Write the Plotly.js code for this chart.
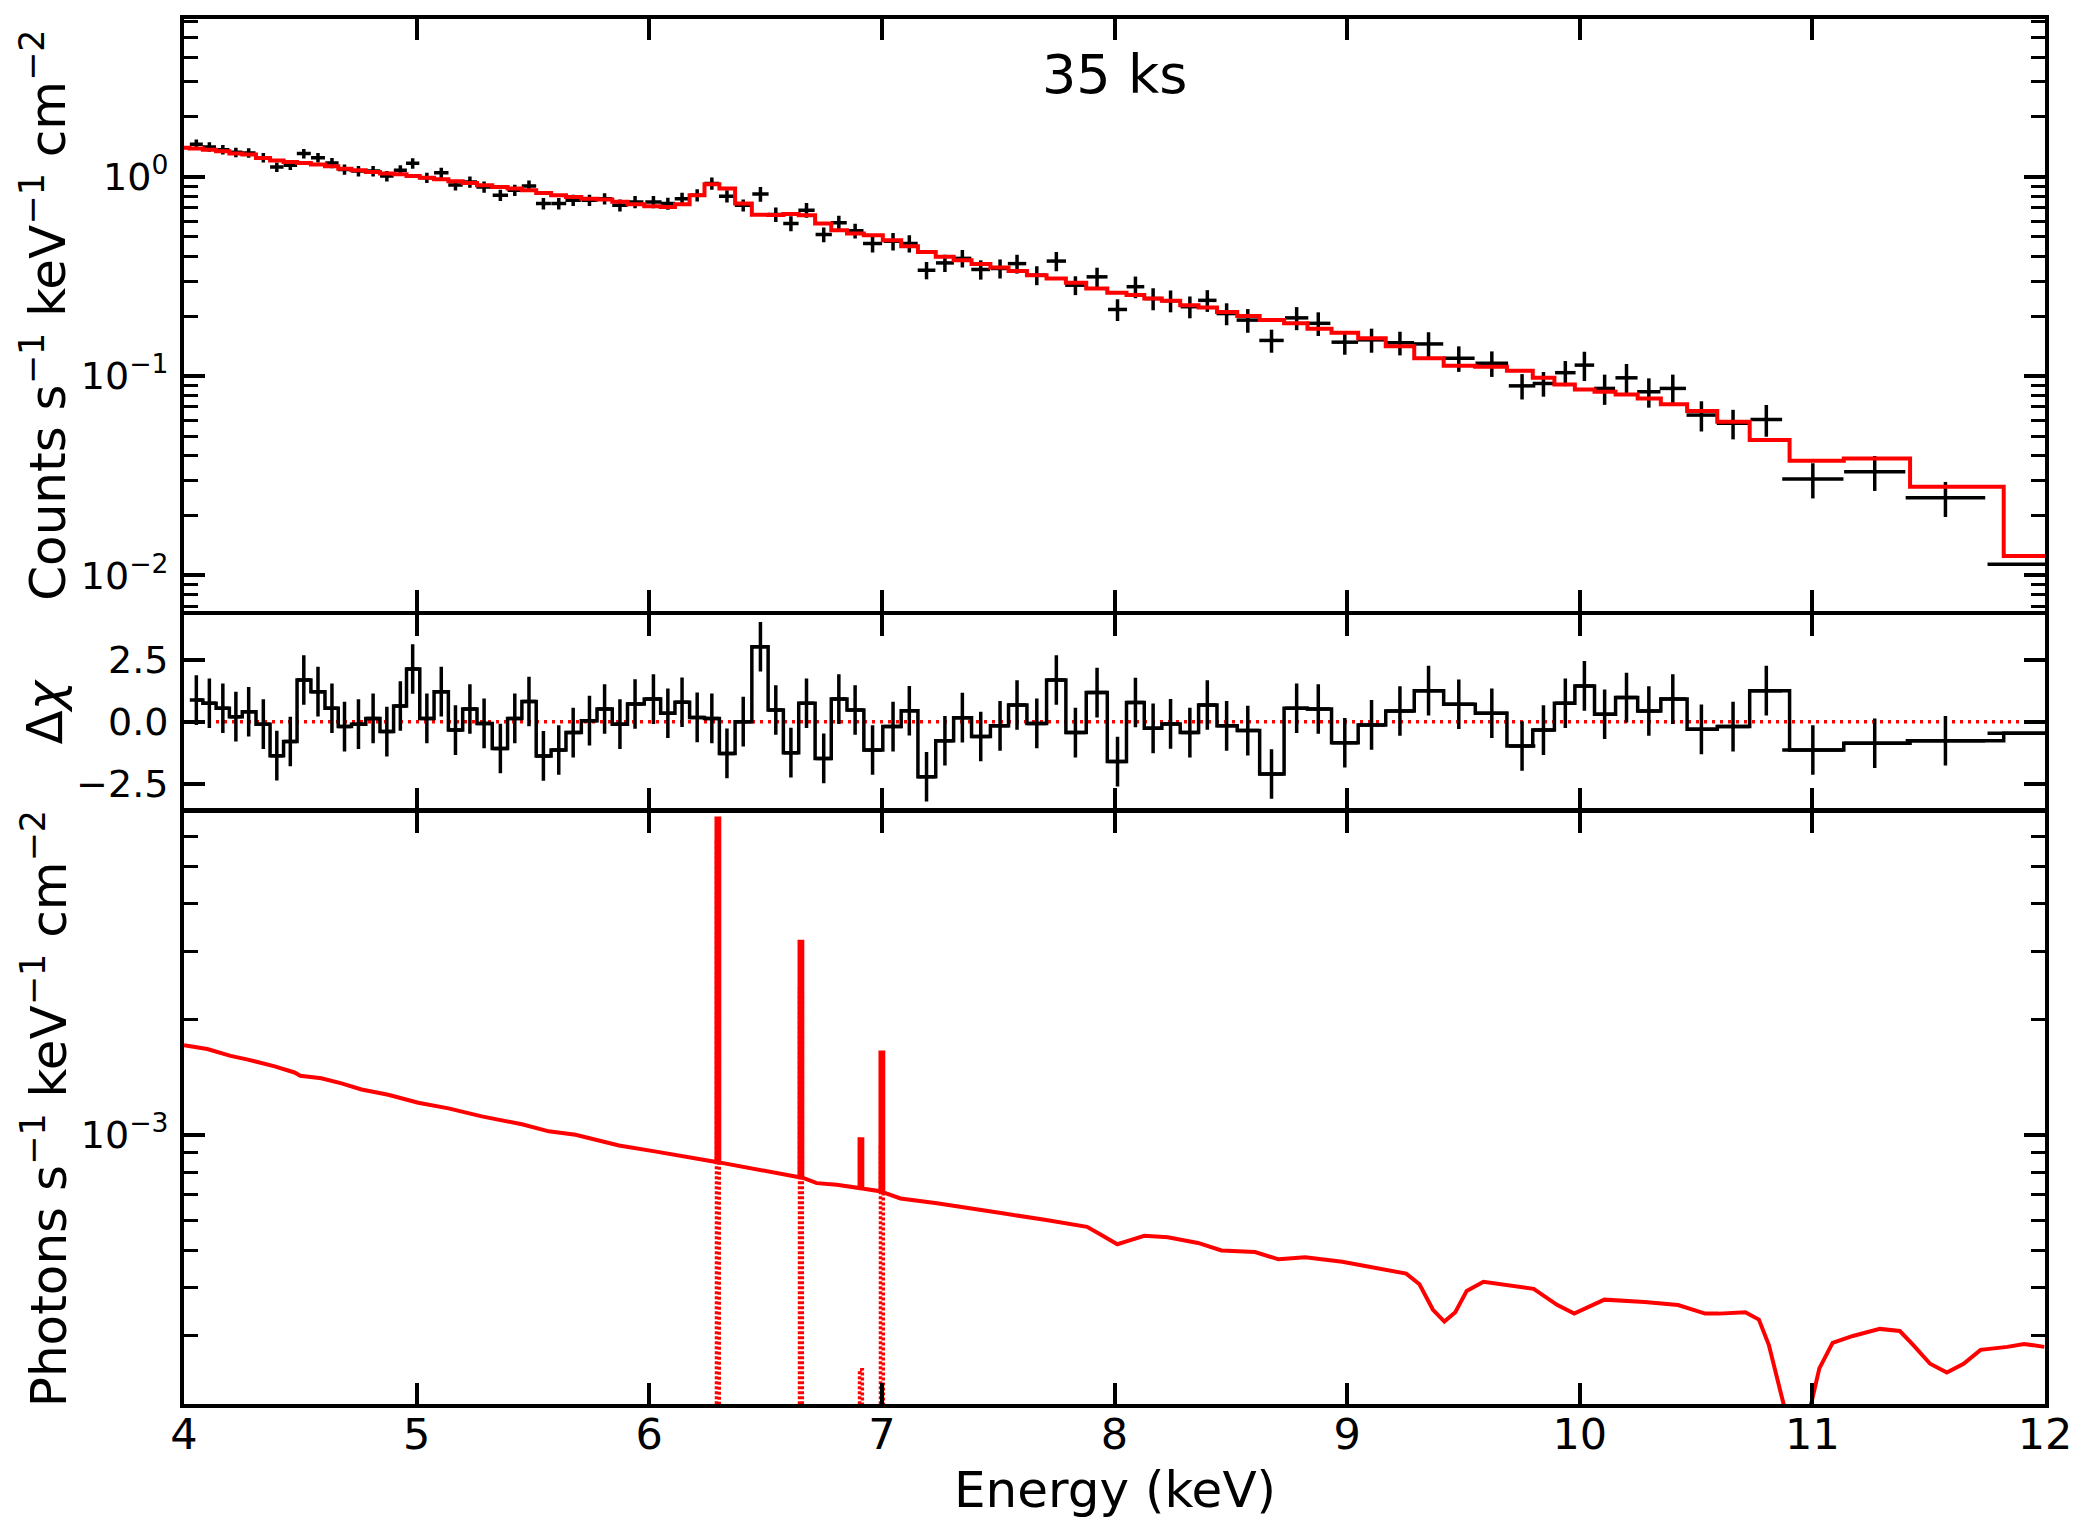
<!DOCTYPE html>
<html>
<head>
<meta charset="utf-8">
<script src="https://cdn.plot.ly/plotly-3.0.1.min.js"></script>
<style>
  html, body { margin: 0; padding: 0; background: #ffffff; }
  #chart { width: 2093px; height: 1537px; }
</style>
</head>
<body>
<div id="chart"></div>
<script>
// ---------------- data ----------------
const binE = [4.053,4.109,4.167,4.223,4.278,4.341,4.399,4.457,4.515,4.576,
  4.636,4.690,4.750,4.813,4.872,4.930,4.983,5.044,5.106,5.167,
  5.229,5.290,5.360,5.422,5.483,5.545,5.611,5.673,5.743,5.808,
  5.874,5.939,6.018,6.080,6.141,6.206,6.269,6.334,6.404,6.478,
  6.544,6.609,6.676,6.750,6.815,6.885,6.960,7.048,7.118,7.192,
  7.271,7.346,7.425,7.508,7.581,7.666,7.750,7.832,7.925,8.013,
  8.090,8.166,8.241,8.324,8.399,8.482,8.573,8.675,8.783,8.876,
  8.990,9.105,9.227,9.350,9.480,9.622,9.752,9.844,9.938,10.020,
  10.107,10.201,10.297,10.400,10.523,10.659,10.802,11.002,11.268,11.572,
  12.073];
const binHW = [0.028,0.0285,0.0285,0.028,0.0295,0.030,0.029,0.029,0.030,0.030,
  0.0285,0.0285,0.031,0.0305,0.029,0.028,0.0285,0.031,0.031,0.031,
  0.031,0.033,0.033,0.031,0.031,0.032,0.032,0.033,0.034,0.033,
  0.033,0.036,0.035,0.031,0.0315,0.032,0.032,0.034,0.036,0.035,
  0.033,0.033,0.035,0.035,0.034,0.036,0.041,0.040,0.036,0.038,
  0.0385,0.0385,0.0405,0.039,0.0395,0.042,0.0415,0.044,0.045,0.041,
  0.038,0.038,0.0395,0.0395,0.0395,0.0435,0.048,0.0525,0.050,0.052,
  0.057,0.059,0.061,0.063,0.068,0.070,0.057,0.0465,0.044,0.042,
  0.045,0.0475,0.050,0.0565,0.064,0.070,0.068,0.1316,0.1316,0.171,
  0.32];
const countsData = [1.46,1.415,1.37,1.33,1.32,1.25,1.12,1.145,1.31,1.25,
  1.175,1.09,1.07,1.07,1.01,1.08,1.17,0.99,1.05,0.91,
  0.944,0.89,0.81,0.857,0.90,0.735,0.735,0.764,0.764,0.778,
  0.721,0.749,0.749,0.735,0.778,0.81,0.927,0.80,0.721,0.82,
  0.648,0.584,0.681,0.514,0.588,0.536,0.463,0.475,0.463,0.340,
  0.370,0.390,0.343,0.347,0.367,0.321,0.378,0.286,0.315,0.216,
  0.281,0.245,0.239,0.223,0.240,0.206,0.191,0.151,0.196,0.184,
  0.148,0.152,0.147,0.145,0.123,0.116,0.0893,0.0918,0.104,0.1135,
  0.0867,0.098,0.0834,0.0867,0.0637,0.0579,0.0606,0.0304,0.0331,0.0245,
  0.01135];
const countsErr = [0.080,0.078,0.075,0.073,0.073,0.069,0.062,0.063,0.072,0.069,
  0.071,0.065,0.064,0.064,0.061,0.065,0.070,0.059,0.063,0.055,
  0.061,0.058,0.053,0.056,0.059,0.048,0.048,0.050,0.050,0.051,
  0.050,0.052,0.052,0.051,0.054,0.057,0.065,0.056,0.050,0.070,
  0.055,0.050,0.058,0.044,0.050,0.046,0.046,0.048,0.046,0.034,
  0.037,0.039,0.038,0.038,0.040,0.035,0.042,0.031,0.035,0.027,
  0.035,0.031,0.030,0.028,0.030,0.026,0.026,0.020,0.026,0.025,
  0.020,0.021,0.020,0.021,0.018,0.017,0.013,0.013,0.015,0.019,
  0.015,0.017,0.014,0.015,0.011,0.0098,0.011,0.0061,0.0066,0.0049,
  0.0023];
const modelStartE = 3.995;
const modelE = [modelStartE].concat(binE);
const modelY = [1.40,
  1.39,1.37,1.345,1.31,1.295,1.245,1.21,1.19,1.175,1.153,
  1.13,1.10,1.08,1.06,1.04,1.03,1.01,0.99,0.974,0.951,
  0.933,0.908,0.891,0.875,0.858,0.831,0.81,0.794,0.778,0.77,
  0.75,0.73,0.713,0.707,0.73,0.81,0.92,0.875,0.735,0.645,
  0.643,0.652,0.642,0.584,0.540,0.520,0.509,0.481,0.449,0.420,
  0.397,0.382,0.365,0.351,0.337,0.321,0.309,0.294,0.275,0.262,
  0.255,0.245,0.239,0.227,0.221,0.210,0.200,0.191,0.184,0.173,
  0.165,0.155,0.141,0.123,0.1127,0.1114,0.1064,0.098,0.0908,0.0857,
  0.0834,0.0809,0.0772,0.0721,0.0667,0.059,0.0477,0.0376,0.0386,0.0278,
  0.0125];
const residual = [0.87,0.74,0.54,0.20,0.40,-0.10,-1.37,-0.80,1.68,1.21,
  0.54,-0.20,-0.10,0.13,-0.40,0.63,2.12,0.13,1.21,-0.34,
  0.51,-0.07,-1.08,0.13,0.81,-1.38,-1.14,-0.44,0.04,0.51,
  -0.10,0.71,0.91,0.34,0.78,0.17,0.13,-1.28,0.00,3.02,
  0.47,-1.25,0.74,-1.48,0.91,0.47,-1.14,-0.20,0.44,-2.22,
  -0.77,0.16,-0.60,-0.17,0.67,-0.07,1.68,-0.44,1.17,-1.61,
  0.77,-0.27,-0.09,-0.44,0.67,-0.17,-0.36,-2.11,0.54,0.51,
  -0.85,-0.13,0.43,1.25,0.70,0.34,-0.98,-0.34,0.74,1.44,
  0.30,0.97,0.43,0.91,-0.31,-0.20,1.25,-1.14,-0.87,-0.77,
  -0.47];
const residErr = 1.0;

// unfolded model (photons) incl. narrow emission lines
const photonE = [4.00,4.10,4.20,4.27,4.39,4.475,4.50,4.59,4.677,4.763,
  4.878,5.007,5.137,5.28,5.453,5.568,5.683,5.87,6.03,6.289,
  6.289,6.301,6.301,6.375,6.646,6.646,6.658,6.658,6.72,6.806,
  6.904,6.904,6.916,6.916,6.994,6.994,7.006,7.006,7.08,7.237,
  7.38,7.526,7.70,7.882,7.94,8.012,8.055,8.128,8.229,8.359,
  8.46,8.546,8.604,8.705,8.82,8.979,9.124,9.254,9.311,9.369,
  9.418,9.465,9.514,9.586,9.802,9.904,9.976,10.033,10.106,10.279,
  10.423,10.539,10.597,10.712,10.77,10.813,10.857,10.885,10.93,10.975,
  10.995,11.03,11.087,11.174,11.29,11.376,11.434,11.506,11.578,11.65,
  11.723,11.838,11.91,11.997];
const photonY = [1.714e-3,1.676e-3,1.608e-3,1.575e-3,1.51e-3,1.456e-3,1.427e-3,1.406e-3,1.364e-3,1.315e-3,
  1.274e-3,1.214e-3,1.174e-3,1.119e-3,1.067e-3,1.023e-3,1.002e-3,9.40e-4,9.06e-4,8.51e-4,
  6.67e-3,6.67e-3,8.49e-4,8.32e-4,7.77e-4,3.19e-3,3.19e-3,7.75e-4,7.50e-4,7.43e-4,
  7.28e-4,9.75e-4,9.75e-4,7.26e-4,7.14e-4,1.64e-3,1.64e-3,7.10e-4,6.84e-4,6.65e-4,
  6.43e-4,6.25e-4,6.02e-4,5.77e-4,5.51e-4,5.20e-4,5.30e-4,5.47e-4,5.42e-4,5.24e-4,
  5.01e-4,4.99e-4,4.96e-4,4.75e-4,4.81e-4,4.68e-4,4.52e-4,4.36e-4,4.09e-4,3.51e-4,
  3.27e-4,3.46e-4,3.93e-4,4.15e-4,3.98e-4,3.61e-4,3.43e-4,3.55e-4,3.73e-4,3.68e-4,
  3.61e-4,3.43e-4,3.43e-4,3.46e-4,3.31e-4,2.84e-4,2.20e-4,1.90e-4,1.65e-4,1.80e-4,
  2.00e-4,2.47e-4,2.88e-4,3.00e-4,3.13e-4,3.09e-4,2.84e-4,2.54e-4,2.41e-4,2.54e-4,
  2.76e-4,2.81e-4,2.86e-4,2.81e-4];
// individual gaussian line components (dotted)
const lineE = [6.295, 6.652, 6.910, 7.000];
const linePeak = [5.8e-3, 2.4e-3, 2.45e-4, 9.3e-4];
const lineHalfWidth = 0.006;
const lineFloor = 1e-4;

// ticks
const xTicks = [4,5,6,7,8,9,10,11,12];
const countsTickVals = [0.01, 0.1, 1];
const countsTickText = ['10<sup>−2</sup>','10<sup>−1</sup>','10<sup>0</sup>'];
const countsMinor = [0.007,0.008,0.009,0.02,0.03,0.04,0.05,0.06,0.07,0.08,0.09,
  0.2,0.3,0.4,0.5,0.6,0.7,0.8,0.9,2,3,4,5,6];
const residTicks = [-2.5, 0, 2.5];
const photonTickVals = [0.001];
const photonTickText = ['10<sup>−3</sup>'];
const photonMinor = [3e-4,4e-4,5e-4,6e-4,7e-4,8e-4,9e-4,2e-3,3e-3,4e-3,5e-3,6e-3];

// ---------------- figure ----------------
const FONT = 'DejaVu Sans';
const RED = '#ff0000';
const LW = 3.5;
const RLW = 4;

const traces = [];
traces.push({
  x: binE, y: countsData, xaxis: 'x3', yaxis: 'y', type: 'scatter', mode: 'markers',
  marker: {size: 1, color: 'black'},
  error_x: {type: 'data', array: binHW, width: 0, thickness: LW, color: 'black'},
  error_y: {type: 'data', array: countsErr, width: 0, thickness: LW, color: 'black'},
  hoverinfo: 'skip', showlegend: false
});
traces.push({
  x: modelE, y: modelY, xaxis: 'x3', yaxis: 'y', type: 'scatter', mode: 'lines',
  line: {shape: 'hvh', color: RED, width: RLW}, hoverinfo: 'skip', showlegend: false
});
traces.push({
  x: binE, y: residual, xaxis: 'x2', yaxis: 'y2', type: 'scatter', mode: 'lines',
  line: {shape: 'hvh', color: 'black', width: LW},
  error_x: {type: 'data', array: binHW, width: 0, thickness: LW, color: 'black'},
  error_y: {type: 'constant', value: residErr, width: 0, thickness: LW, color: 'black'},
  hoverinfo: 'skip', showlegend: false
});
for (let i = 0; i < lineE.length; i++) {
  const e0 = lineE[i] - lineHalfWidth, e1 = lineE[i] + lineHalfWidth;
  traces.push({
    x: [e0, e0, e1, e1], y: [lineFloor, linePeak[i], linePeak[i], lineFloor],
    xaxis: 'x', yaxis: 'y3',
    type: 'scatter', mode: 'lines', line: {color: RED, width: 3.5, dash: '3px,2px'},
    hoverinfo: 'skip', showlegend: false
  });
}
traces.push({
  x: photonE, y: photonY, xaxis: 'x', yaxis: 'y3', type: 'scatter', mode: 'lines',
  line: {color: RED, width: RLW}, hoverinfo: 'skip', showlegend: false
});

// panel domains (paper fractions); small gaps so neighbouring frame lines coincide
const dTop = [0.5728, 1];
const dRes = [0.42996, 0.56989];
const dBot = [0, 0.42708];

function xAxis(anchor, labels) {
  return {
    anchor: anchor, range: [4, 12], tickmode: 'array', tickvals: xTicks,
    ticks: 'inside', ticklen: 21, tickwidth: 4, tickcolor: 'black',
    showline: true, linewidth: 4, linecolor: 'black', mirror: 'ticks',
    showgrid: false, zeroline: false, showticklabels: labels,
    tickfont: {family: FONT, size: 43, color: 'black'}, ticklabelstandoff: -11
  };
}
function yBase() {
  return {
    ticks: 'inside', ticklen: 21, tickwidth: 4, tickcolor: 'black',
    showline: true, linewidth: 4, linecolor: 'black', mirror: 'ticks',
    showgrid: false, zeroline: false,
    tickfont: {family: FONT, size: 38, color: 'black'}, ticklabelstandoff: 4
  };
}
const yaxis = Object.assign(yBase(), {
  domain: dTop, anchor: 'x3', type: 'log', range: [-2.178, 0.793],
  tickmode: 'array', tickvals: countsTickVals, ticktext: countsTickText,
  minor: {tickmode: 'array', tickvals: countsMinor, ticks: 'inside', ticklen: 14, tickwidth: 3, tickcolor: 'black', showgrid: false}
});
const yaxis2 = Object.assign(yBase(), {
  domain: dRes, anchor: 'x2', range: [-3.50, 4.31],
  tickmode: 'array', tickvals: residTicks, tickformat: '.1f'
});
const yaxis3 = Object.assign(yBase(), {
  domain: dBot, anchor: 'x', type: 'log', range: [-3.70, -2.160],
  tickmode: 'array', tickvals: photonTickVals, ticktext: photonTickText,
  minor: {tickmode: 'array', tickvals: photonMinor, ticks: 'inside', ticklen: 14, tickwidth: 3, tickcolor: 'black', showgrid: false}
});

const titleFont = {family: FONT, size: 50, color: 'black'};
const layout = {
  width: 2093, height: 1537,
  margin: {l: 184, r: 48, t: 19, b: 133, pad: 0},
  paper_bgcolor: 'white', plot_bgcolor: 'white',
  font: {family: FONT, color: 'black'},
  showlegend: false,
  xaxis: xAxis('y3', true),
  xaxis2: Object.assign(xAxis('y2', false), {matches: 'x'}),
  xaxis3: Object.assign(xAxis('y', false), {matches: 'x'}),
  yaxis: yaxis, yaxis2: yaxis2, yaxis3: yaxis3,
  shapes: [{
    type: 'line', xref: 'x2 domain', x0: 0, x1: 1, yref: 'y2', y0: 0, y1: 0,
    line: {color: RED, width: 3.5, dash: '3px,5px'}, layer: 'below'
  }],
  annotations: [
    {text: '35 ks', xref: 'paper', yref: 'paper', x: 0.5, y: 0.9596,
     xanchor: 'center', yanchor: 'middle', showarrow: false,
     font: {family: FONT, size: 54, color: 'black'}},
    {text: 'Counts s<sup>−1</sup> keV<sup>−1</sup> cm<sup>−2</sup>', xref: 'paper', yref: 'paper',
     x: -0.0747, y: (dTop[0] + dTop[1]) / 2, xanchor: 'center', yanchor: 'middle', textangle: -90,
     showarrow: false, font: titleFont},
    {text: 'Δ<i>χ</i>', xref: 'paper', yref: 'paper',
     x: -0.0747, y: (dRes[0] + dRes[1]) / 2, xanchor: 'center', yanchor: 'middle', textangle: -90,
     showarrow: false, font: titleFont},
    {text: 'Photons s<sup>−1</sup> keV<sup>−1</sup> cm<sup>−2</sup>', xref: 'paper', yref: 'paper',
     x: -0.0747, y: (dBot[0] + dBot[1]) / 2, xanchor: 'center', yanchor: 'middle', textangle: -90,
     showarrow: false, font: titleFont},
    {text: 'Energy (keV)', xref: 'paper', yref: 'paper', x: 0.5, y: -0.0621,
     xanchor: 'center', yanchor: 'middle', showarrow: false, font: titleFont}
  ]
};

Plotly.newPlot('chart', traces, layout, {staticPlot: true, displayModeBar: false});
</script>
</body>
</html>
